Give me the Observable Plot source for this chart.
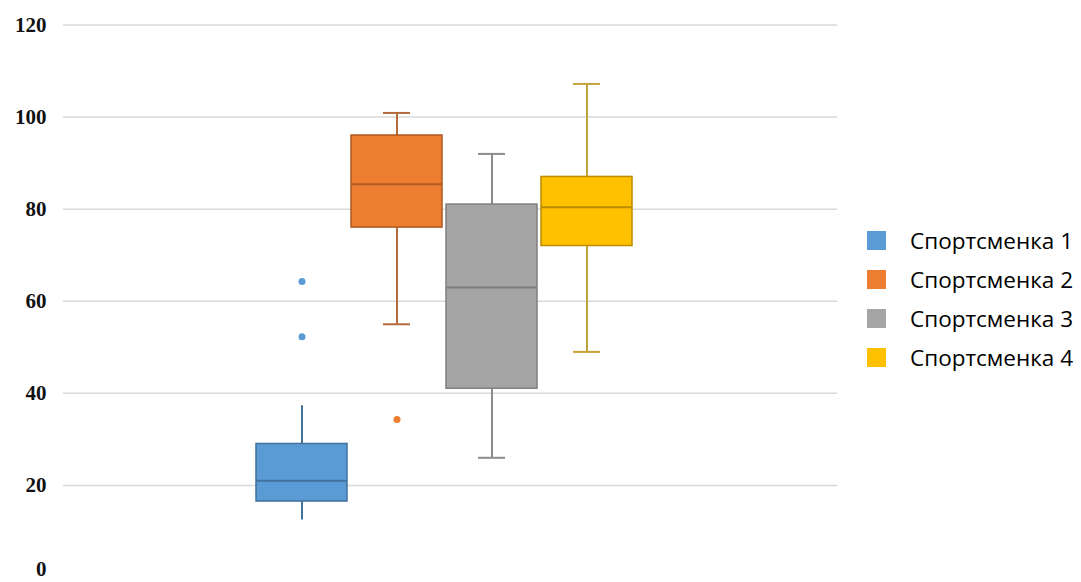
<!DOCTYPE html>
<html>
<head>
<meta charset="utf-8">
<script src="https://cdn.jsdelivr.net/npm/d3@7"></script>
<script src="https://cdn.jsdelivr.net/npm/@observablehq/plot@0.6"></script>
<style>
  html, body { margin: 0; padding: 0; background: #fff; }
  #wrap { position: relative; width: 1081px; height: 582px; overflow: hidden; }
  #legend { position: absolute; left: 867px; top: 221px; font-family: "Open Sans", sans-serif; font-size: 22.5px; color: #000; white-space: nowrap; }
  #legend .item { display: flex; align-items: center; height: 39px; }
  #legend .sw { width: 19px; height: 19px; margin-right: 24px; flex: none; }
</style>
</head>
<body>
<div id="wrap"><div id="legend"></div></div>
<script>
const names = ["Спортсменка 1", "Спортсменка 2", "Спортсменка 3", "Спортсменка 4"];
const lows = [12.5, 55, 26, 49];
const q1s = [16.5, 76, 41, 72];
const medians = [21, 85.4, 63, 80.4];
const q3s = [29, 96, 81, 87];
const highs = [37.3, 100.9, 92, 107.2];
const hasCaps = [false, true, true, true];
const outlierNames = ["Спортсменка 1", "Спортсменка 1", "Спортсменка 2"];
const outlierValues = [64.3, 52.3, 34.3];
const fills = ["#5B9BD5", "#ED7D31", "#A5A5A5", "#FFC000"];
const strokes = ["#41719C", "#AE5A21", "#7F7F7F", "#BC8C00"];
const whiskerStrokes = ["#41719C", "#B36B3E", "#8C8C8C", "#C2A23A"];
const yTicksUpper = [20, 40, 60, 80, 100, 120];
const yTicksBottom = [0];
const gridTicks = [20, 40, 60, 80, 100, 120];

const stats = names.map((n, i) => ({
  name: n, lo: lows[i], q1: q1s[i], med: medians[i], q3: q3s[i], hi: highs[i],
  caps: hasCaps[i], fill: fills[i], stroke: strokes[i], wstroke: whiskerStrokes[i]
}));
const outliers = outlierNames.map((n, i) => ({ name: n, value: outlierValues[i], fill: fills[names.indexOf(n)] }));
const capRows = stats.filter(d => d.caps).flatMap(d => [{ ...d, v: d.lo }, { ...d, v: d.hi }]);

const bw = 92;
const capInset = (bw - 28) / 2;
const axisFont = { fontFamily: "Liberation Serif", fontWeight: "bold", fontSize: 21, fill: "#111" };

const chart = Plot.plot({
  width: 1081,
  height: 582,
  marginLeft: 63,
  marginRight: 244,
  marginTop: 24.5,
  marginBottom: 5,
  style: { background: "#fff" },
  x: { type: "band", domain: names, range: [251, 637], padding: 0.04, axis: null },
  y: { domain: [0, 120], tickSize: 0, label: null },
  marks: [
    Plot.ruleY(gridTicks, { stroke: "#d9d9d9", strokeWidth: 1.5 }),
    Plot.axisY(yTicksUpper, { tickSize: 0, tickPadding: 17, label: null, ...axisFont }),
    Plot.axisY(yTicksBottom, { tickSize: 0, tickPadding: 17, label: null, dy: -8, ...axisFont }),
    Plot.ruleX(stats, { x: "name", y1: "lo", y2: "q1", stroke: d => d.wstroke, strokeWidth: 2 }),
    Plot.ruleX(stats, { x: "name", y1: "q3", y2: "hi", stroke: d => d.wstroke, strokeWidth: 2 }),
    Plot.tickY(capRows, { x: "name", y: "v", stroke: d => d.wstroke, strokeWidth: 2, insetLeft: capInset, insetRight: capInset }),
    Plot.barY(stats, { x: "name", y1: "q1", y2: "q3", fill: d => d.fill, stroke: d => d.stroke, strokeWidth: 1.5 }),
    Plot.tickY(stats, { x: "name", y: "med", stroke: d => d.stroke, strokeWidth: 2 }),
    Plot.dot(outliers, { x: "name", y: "value", fill: d => d.fill, r: 3.5, stroke: "none" })
  ]
});
document.getElementById("wrap").prepend(chart);

const legend = document.getElementById("legend");
names.forEach((n, i) => {
  const it = document.createElement("div");
  it.className = "item";
  it.innerHTML = `<span class="sw" style="background:${fills[i]}"></span><span>${n}</span>`;
  legend.appendChild(it);
});
</script>
</body>
</html>
